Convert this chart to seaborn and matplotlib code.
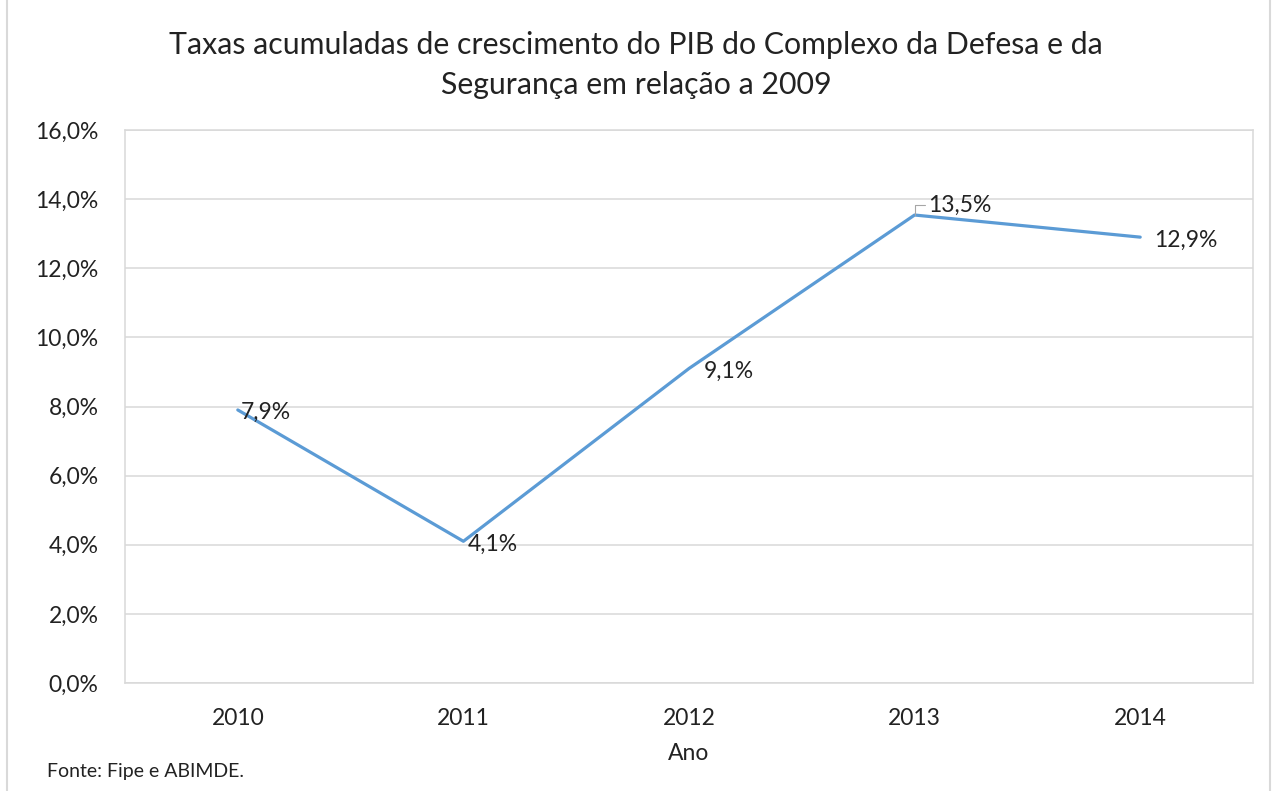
import pandas as pd
import seaborn as sns
import matplotlib.pyplot as plt
from matplotlib.patches import Rectangle

# data
anos = ["2010", "2011", "2012", "2013", "2014"]
taxas = [7.9, 4.1, 9.1, 13.54, 12.9]
rotulos = ["7,9%", "4,1%", "9,1%", "13,5%", "12,9%"]

df = pd.DataFrame({"ano": anos, "taxa": taxas})

sns.set_style("white")
plt.rcParams['font.family'] = ['Lato', 'DejaVu Sans']

fs = 16.5
fig = plt.figure(figsize=(12.72, 7.91), dpi=100)
ax = fig.add_axes([125 / 1272, 1 - 683 / 791, 1128 / 1272, 553 / 791])

sns.lineplot(data=df, x="ano", y="taxa", color="#5b9bd5", linewidth=2.3, ax=ax, sort=False)

ax.set_xlim(-0.5, 4.5)
ax.set_ylim(0, 16)
ax.set_yticks(range(0, 17, 2))
ax.set_yticklabels([f"{v},0%" for v in range(0, 17, 2)], fontsize=fs, color="#222222")
ax.tick_params(axis="x", labelsize=fs, colors="#222222", pad=18, length=0)
ax.tick_params(axis="y", pad=19, length=0)
ax.grid(axis="y", color="#d9d9d9", linewidth=1.1)
for s in ax.spines.values():
    s.set_color("#d9d9d9")
    s.set_linewidth(1.1)
ax.set_xlabel("Ano", fontsize=fs, color="#222222", labelpad=10)
ax.set_ylabel("")

# data labels, placed like Excel does
offsets = [(3, -2), (4, -3), (15, -3), (14, 10), (14, -3)]
for i, (v, t) in enumerate(zip(taxas, rotulos)):
    dx, dy = offsets[i]
    if i == 3:
        ax.annotate(t, (i, v), xytext=(dx, dy), textcoords="offset pixels",
                    fontsize=fs, color="#222222", va="center", ha="left",
                    arrowprops=dict(arrowstyle="-", color="#a6a6a6", lw=0.8,
                                    shrinkA=0, shrinkB=0,
                                    connectionstyle="angle,angleA=0,angleB=90,rad=0",
                                    relpos=(0, 0.5)))
    else:
        ax.annotate(t, (i, v), xytext=(dx, dy), textcoords="offset pixels",
                    fontsize=fs, color="#222222", va="center", ha="left")

fig.text(0.5, 1 - 45 / 791, "Taxas acumuladas de crescimento do PIB do Complexo da Defesa e da",
         ha="center", va="center", fontsize=21.8, color="#222222")
fig.text(0.5, 1 - 85 / 791, "Segurança em relação a 2009",
         ha="center", va="center", fontsize=21.8, color="#222222")
fig.text(47 / 1272, 1 - 772 / 791, "Fonte: Fipe e ABIMDE.", ha="left", va="center",
         fontsize=14, color="#222222")

# outer chart frame
fig.patches.append(Rectangle((7 / 1272, -0.02), 1263 / 1272, 1.05, transform=fig.transFigure,
                             fill=False, edgecolor="#d9d9d9", linewidth=1.5))

fig.savefig("out.png", dpi=100)
